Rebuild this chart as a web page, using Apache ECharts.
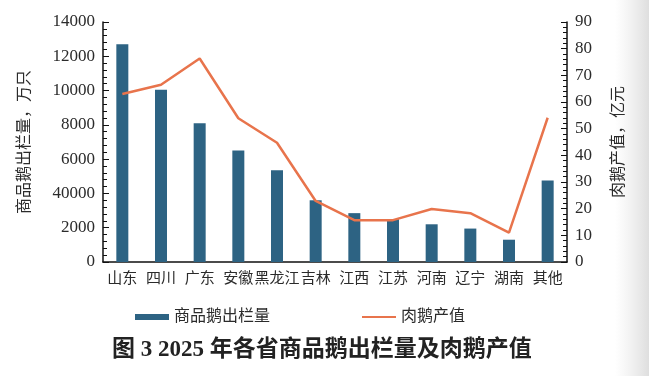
<!DOCTYPE html>
<html>
<head>
<meta charset="utf-8">
<script src="https://cdn.jsdelivr.net/npm/echarts@6/dist/echarts.min.js"></script>
<style>
  html, body { margin: 0; padding: 0; background: #fff; }
  #main { width: 649px; height: 376px; }
</style>
</head>
<body>
<div id="main"></div>
<script>
// 省份
var provinces = ['山东', '四川', '广东', '安徽', '黑龙江', '吉林', '江西', '江苏', '河南', '辽宁', '湖南', '其他'];
// 商品鹅出栏量（万只）
var gooseOutput = [12700, 10050, 8100, 6500, 5350, 3600, 2850, 2500, 2200, 1950, 1300, 4750];
// 肉鹅产值（亿元）
var gooseValue = [63.0, 66.5, 76.3, 53.9, 44.7, 22.9, 15.7, 15.7, 19.9, 18.3, 11.0, 54.1];
// 左轴刻度标签（原图 4000 处印作 40000）
var leftTickLabels = ['0', '2000', '40000', '6000', '8000', '10000', '12000', '14000'];
var rightTickLabels = ['0', '10', '20', '30', '40', '50', '60', '70', '80', '90'];

var font = '"Liberation Serif", "Noto Sans CJK SC", serif';
var textColor = '#2b2b2b';

var myChart = echarts.init(document.getElementById('main'));
var option = {
    backgroundColor: '#fff',
    animation: false,
    textStyle: { fontFamily: font },
    graphic: [{
        type: 'rect',
        shape: { x: 615, y: 0, width: 34, height: 376 },
        style: {
            fill: new echarts.graphic.LinearGradient(0, 0, 1, 0, [
                { offset: 0, color: 'rgba(230,230,230,0)' },
                { offset: 1, color: 'rgba(222,222,222,1)' }
            ])
        },
        z: -10
    }],
    title: {
        text: '图 3 2025 年各省商品鹅出栏量及肉鹅产值',
        left: 107,
        top: 334,
        textStyle: { fontFamily: font, fontSize: 23, fontWeight: 'bold', color: '#222' }
    },
    legend: {
        left: 130,
        top: 304,
        itemGap: 92,
        itemWidth: 34,
        itemHeight: 6,
        symbolKeepAspect: true,
        textStyle: { fontFamily: font, fontSize: 16, color: textColor },
        data: [
            { name: '商品鹅出栏量', icon: 'rect' },
            { name: '肉鹅产值', icon: 'path://M0,0 L36,0 L36,2.2 L0,2.2 Z' }
        ]
    },
    grid: { left: 103, right: 82, top: 22, bottom: 114 },
    xAxis: {
        type: 'category',
        data: provinces,
        axisLine: { lineStyle: { color: '#111', width: 1.5 } },
        axisTick: { show: false },
        axisLabel: { interval: 0, margin: 10, fontSize: 15, color: textColor, fontFamily: font }
    },
    yAxis: [{
        type: 'value',
        min: 0,
        max: 14000,
        interval: 2000,
        name: '商品鹅出栏量，万只',
        nameLocation: 'middle',
        nameRotate: 90,
        nameGap: 70,
        nameTextStyle: { fontSize: 16, color: textColor, fontFamily: font },
        axisLine: { show: true, lineStyle: { color: '#111', width: 1.5 } },
        axisTick: { show: true, inside: true, length: 6, lineStyle: { color: '#111' } },
        minorTick: { show: true, splitNumber: 5, length: 4, lineStyle: { color: '#111' } },
        splitLine: { show: false },
        axisLabel: {
            fontSize: 17, color: textColor, fontFamily: font, margin: 8,
            formatter: function (v) { return leftTickLabels[Math.round(v / 2000)]; }
        }
    }, {
        type: 'value',
        min: 0,
        max: 90,
        interval: 10,
        position: 'right',
        name: '肉鹅产值，亿元',
        nameLocation: 'middle',
        nameRotate: 90,
        nameGap: 44,
        nameTextStyle: { fontSize: 16, color: textColor, fontFamily: font },
        axisLine: { show: true, lineStyle: { color: '#111', width: 1.5 } },
        axisTick: { show: true, inside: true, length: 6, lineStyle: { color: '#111' } },
        minorTick: { show: true, splitNumber: 5, length: 4, lineStyle: { color: '#111' } },
        splitLine: { show: false },
        axisLabel: {
            fontSize: 17, color: textColor, fontFamily: font, margin: 8,
            formatter: function (v) { return rightTickLabels[Math.round(v / 10)]; }
        }
    }],
    series: [{
        name: '商品鹅出栏量',
        type: 'bar',
        yAxisIndex: 0,
        barWidth: 12,
        itemStyle: { color: '#2d6383' },
        data: gooseOutput
    }, {
        name: '肉鹅产值',
        type: 'line',
        yAxisIndex: 1,
        symbol: 'none',
        lineStyle: { color: '#e8744c', width: 2.5 },
        itemStyle: { color: '#e8744c' },
        data: gooseValue
    }]
};
myChart.setOption(option);
</script>
</body>
</html>
